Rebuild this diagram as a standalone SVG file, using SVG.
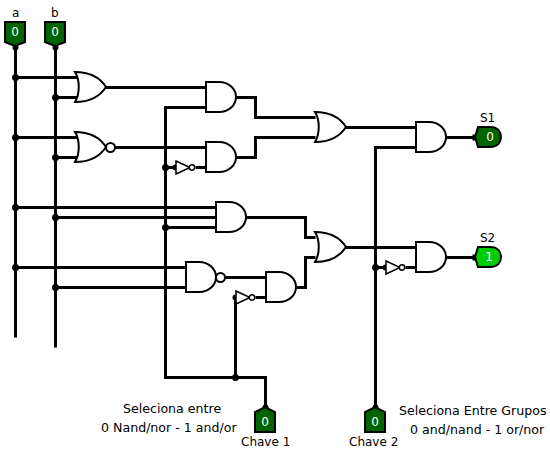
<svg xmlns="http://www.w3.org/2000/svg" width="550" height="454" viewBox="0 0 550 454">
<style>
.w{fill:none;stroke:#000;stroke-width:3;stroke-linejoin:miter}
.g{fill:#fff;stroke:#000;stroke-width:2}
.b{fill:#fff;stroke:#000;stroke-width:2}
.s{fill:#fff;stroke:#000;stroke-width:1.5}
.t{font-family:"DejaVu Sans",sans-serif;font-size:12px;fill:#000}
.n{font-family:"DejaVu Sans",sans-serif;font-size:12.600px;fill:#000}
.v{font-family:"DejaVu Sans",sans-serif;font-size:12px;fill:#fff;text-anchor:middle}
.d{fill:#006400;stroke:#000;stroke-width:2}
.l{fill:#00cc00;stroke:#000;stroke-width:2}
</style>
<defs>
<path id="and" d="M0 0H13C23 0 30 7 30 15S23 30 13 30H0Z"/>
<path id="or" d="M-1 0C6 0 21 1 30 15C21 29 6 30 -1 30C4 22 4 8 -1 0Z"/>
<path id="inp" d="M-10 0H10V20L0 24L-10 20Z"/>
<path id="up" d="M-10 25H10V5L0 0L-10 5Z"/>
<path id="out" d="M0 0H12C20 0 23 5 23 10S20 20 12 20H0L-3 10Z"/>
<g id="inv"><path class="s" d="M0 -6.500L14 0L0 6.500Z"/><circle class="s" cx="16" cy="0" r="2.700"/></g>
</defs>
<g id="connectors" transform="translate(0.5 0.5)">
<path class="w" d="M15 47V337M55 47V347M15 77H77M55 97H77M15 137H77M55 157H77"/>
<path class="w" d="M105 87H205M115 147H205M205 107H165V377H265V405M165 167H175M195 167H205"/>
<path class="w" d="M235 97H255V117H315M235 157H255V137H315M345 127H415M445 137H475"/>
<path class="w" d="M15 207H215M55 217H215M165 227H215M245 217H305V237H315M15 267H185M55 287H185"/>
<path class="w" d="M225 277H265M295 287H305V257H315M235 297V377M255 297H265"/>
<path class="w" d="M345 247H415M415 147H375V405M375 267H385M405 267H415M445 257H475"/>
<g fill="#000">
<circle cx="15" cy="47" r="3"/><circle cx="55" cy="47" r="3"/>
<circle cx="15" cy="77" r="3.500"/><circle cx="55" cy="97" r="3.500"/><circle cx="15" cy="137" r="3.500"/><circle cx="55" cy="157" r="3.500"/>
<circle cx="165" cy="167" r="3.500"/><circle cx="175" cy="167" r="3"/>
<circle cx="15" cy="207" r="3.500"/><circle cx="55" cy="217" r="3.500"/><circle cx="165" cy="227" r="3.500"/>
<circle cx="15" cy="267" r="3.500"/><circle cx="55" cy="287" r="3.500"/>
<circle cx="235" cy="297" r="3"/><circle cx="235" cy="377" r="3.500"/>
<circle cx="375" cy="267" r="3.500"/><circle cx="385" cy="267" r="3"/>
<rect x="472" y="134" width="6" height="6"/><rect x="472" y="254" width="6" height="6"/>
<circle cx="265" cy="407" r="3"/><circle cx="375" cy="407" r="3"/>
</g>
</g>
<g id="in-a"><use href="#inp" x="15" y="22" class="d"/><text class="v" x="15" y="36">0</text><text class="t" x="12" y="17">a</text></g>
<g id="in-b"><use href="#inp" x="55" y="22" class="d"/><text class="v" x="55" y="36">0</text><text class="t" x="51" y="17">b</text></g>
<g id="or1"><use href="#or" x="76" y="72" class="g"/></g>
<g id="nor1"><use href="#or" x="76" y="132" class="g"/><circle class="b" cx="110.500" cy="147.500" r="4.500"/></g>
<g id="and1"><use href="#and" x="206" y="82" class="g"/></g>
<g id="inv1"><use href="#inv" x="176" y="167.500"/></g>
<g id="and2"><use href="#and" x="206" y="142" class="g"/></g>
<g id="or2"><use href="#or" x="316" y="112" class="g"/></g>
<g id="and3"><use href="#and" x="416" y="122" class="g"/></g>
<g id="and4"><use href="#and" x="216" y="202" class="g"/></g>
<g id="nand1"><use href="#and" x="186" y="262" class="g"/><circle class="b" cx="220.500" cy="277.500" r="4.500"/></g>
<g id="inv2"><use href="#inv" x="236" y="297.500"/></g>
<g id="and5"><use href="#and" x="266" y="272" class="g"/></g>
<g id="or3"><use href="#or" x="316" y="232" class="g"/></g>
<g id="inv3"><use href="#inv" x="386" y="267.500"/></g>
<g id="and6"><use href="#and" x="416" y="242" class="g"/></g>
<g id="out-s1"><use href="#out" x="478" y="127" class="d"/><text class="v" x="490" y="141">0</text><text class="t" x="480" y="122">S1</text></g>
<g id="out-s2"><use href="#out" x="478" y="247" class="l"/><text class="v" x="489" y="261">1</text><text class="t" x="480" y="242">S2</text></g>
<g id="chave1"><use href="#up" x="265" y="407" class="d"/><text class="v" x="265" y="426">0</text><text class="t" x="241" y="446">Chave 1</text></g>
<g id="chave2"><use href="#up" x="375" y="407" class="d"/><text class="v" x="375" y="426">0</text><text class="t" x="349" y="446">Chave 2</text></g>
<g id="note1"><text class="n" x="123" y="413">Seleciona entre</text><text class="n" x="101" y="432">0 Nand/nor - 1 and/or</text></g>
<g id="note2"><text class="n" x="399" y="415">Seleciona Entre Grupos</text><text class="n" x="410" y="434">0 and/nand - 1 or/nor</text></g>
</svg>
